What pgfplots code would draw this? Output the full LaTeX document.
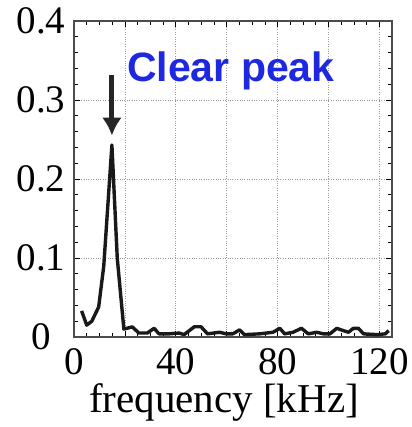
\documentclass[border=0pt]{standalone}
\usepackage{pgfplots}
\pgfplotsset{compat=1.18}
\usetikzlibrary{arrows.meta}
\usepackage{fontspec}
\setmainfont{Liberation Serif}
\newfontfamily\arialfont{Liberation Sans}
\definecolor{peakblue}{RGB}{30,40,225}
\begin{document}
\begin{tikzpicture}
\begin{axis}[
  scale only axis,
  width=318pt, height=316pt,
  xmin=0, xmax=125, ymin=0, ymax=0.4,
  xtick={0,20,40,60,80,100,120},
  xticklabels={0,,40,,80,,120},
  ytick={0,0.1,0.2,0.3,0.4},
  minor x tick num=3,
  minor y tick num=4,
  tick align=inside,
  major tick length=6pt, minor tick length=4pt,
  tick style={black, line width=0.6pt},
  axis line style={black!70, line width=1.2pt},
  grid=major,
  major grid style={dotted, black!40, line width=0.7pt},
  /pgf/number format/assume math mode=true,
  /pgf/number format/fixed,
  /pgf/number format/precision=1,
  ticklabel style={font=\fontsize{39}{42}\selectfont},
  yticklabel style={anchor=center, xshift=-33pt},
  xticklabel style={yshift=-8pt},
  xlabel={frequency [kHz]},
  xlabel style={font=\fontsize{41}{44}\selectfont, yshift=-2pt, xshift=-9pt},
  clip=false,
]
\addplot[black!90, line width=3.4pt, line join=round] coordinates {
(3,0.033) (5,0.015) (7,0.02) (9.7,0.038) (11.7,0.09) (14.9,0.243) (17,0.1) (19.6,0.010)
(22.9,0.0128) (25.5,0.005) (28.8,0.005) (31.5,0.011) (33.4,0.004) (37.4,0.004)
(41.3,0.005) (43.3,0.003) (47.3,0.013) (49.9,0.013) (52.5,0.004) (57.2,0.006)
(59.8,0.004) (62.4,0.004) (65.1,0.009) (67,0.003) (73,0.004) (78.2,0.006)
(80.9,0.011) (82.8,0.004) (86.1,0.006) (89.4,0.011) (92.1,0.004) (95.4,0.006)
(98,0.004) (100.6,0.004) (103.3,0.011) (105.9,0.008) (107.9,0.006) (109.8,0.011)
(111.8,0.011) (113.8,0.004) (119.1,0.003) (122.4,0.004) (123.7,0.008)
};
\draw[-{Latex[length=18pt,width=20pt]}, line width=5pt, black!85]
  (axis cs:14.9,0.332) -- (axis cs:14.9,0.255);
\node[anchor=base west, inner sep=0pt, text=peakblue,
  font=\arialfont\bfseries\fontsize{41}{44}\selectfont]
  at (axis cs:20.8,0.323) {Clear peak};
\end{axis}
\path[use as bounding box] ([shift={(-74pt,-90pt)}]current axis.south west)
  rectangle ([shift={(19pt,21pt)}]current axis.north east);
\end{tikzpicture}
\end{document}
